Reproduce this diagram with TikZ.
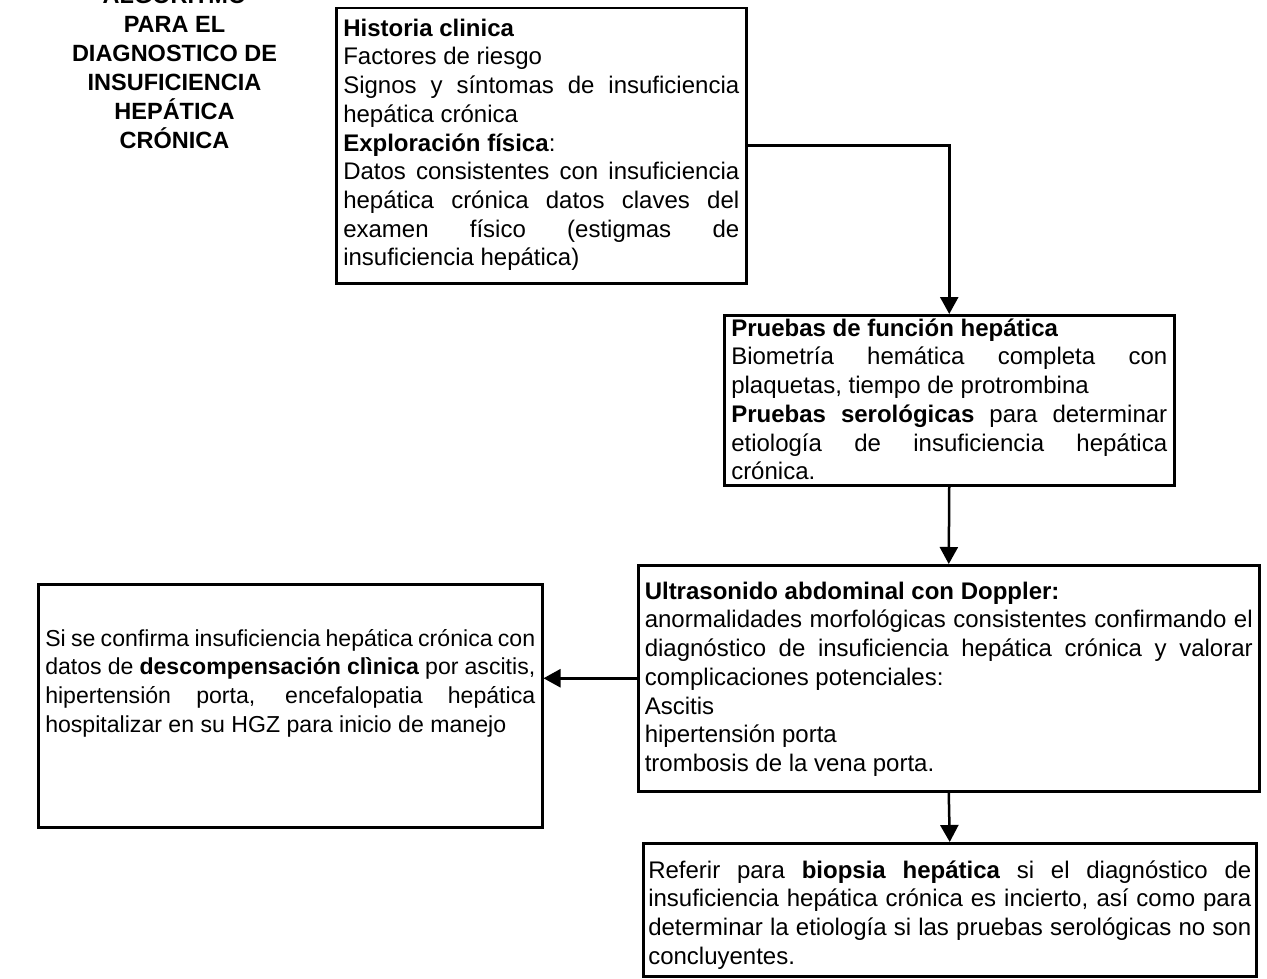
\documentclass[tikz,border=0pt]{standalone}
\usepackage{fontspec}
\setmainfont{Liberation Sans}
\usetikzlibrary{arrows.meta}
\newcommand\bxtextfs[5]{\parbox[c][#2pt][t]{#3pt}{\fontsize{#1}{28.7}\selectfont\hyphenpenalty=10000\exhyphenpenalty=10000\rule{0pt}{#4pt}#5}}
\newcommand\bxtext{\bxtextfs{24}}
\begin{document}
\begin{tikzpicture}[x=1pt,y=-1pt,
  box/.style={draw=black,line width=2.5pt,fill=white,anchor=north west,inner xsep=7pt,inner ysep=0pt},
  conn/.style={draw=black,line width=2.5pt,-{Triangle[length=17pt,width=18pt]}},
  titletext/.style={anchor=north,align=center,inner sep=0pt,font=\bfseries\fontsize{23.5}{29}\selectfont}]
\useasboundingbox[fill=white] (0,0) rectangle (1267,979);
\node[titletext] (title) at (174.5,-13) {ALGORITMO\\PARA EL\\DIAGNOSTICO DE\\INSUFICIENCIA\\HEPÁTICA\\CRÓNICA};
\node[box] (b1) at (335,7) {\bxtext{275}{396}{28}{\textbf{Historia clinica}\par
Factores de riesgo\par
Signos y síntomas de insuficiencia\linebreak hepática crónica\par
\textbf{Exploración física}:\par
Datos consistentes con insuficiencia\linebreak hepática crónica datos claves del\linebreak examen físico (estigmas de\linebreak insuficiencia hepática)}};
\node[box] (b2) at (723,314) {\bxtext{170}{436}{21}{\textbf{Pruebas de función hepática}\par
Biometría hemática completa con\linebreak plaquetas, tiempo de protrombina\par
\textbf{Pruebas serológicas} para determinar\linebreak etiología de insuficiencia hepática\linebreak crónica.}};
\node[box,inner xsep=6.5pt] (b3) at (637,564) {\bxtext{226}{608}{34}{\textbf{Ultrasonido abdominal con Doppler:}\par
anormalidades morfológicas consistentes confirmando el\linebreak diagnóstico de insuficiencia hepática crónica y valorar\linebreak complicaciones potenciales:\par
Ascitis\par
hipertensión porta\par
trombosis de la vena porta.}};
\node[box,inner xsep=5pt] (b4) at (642,842) {\bxtext{133}{603}{35}{Referir para \textbf{biopsia hepática} si el diagnóstico de\linebreak insuficiencia hepática crónica es incierto, así como para\linebreak determinar la etiología si las pruebas serológicas no son\linebreak concluyentes.}};
\node[box] (lb) at (37,583) {\bxtextfs{23.1}{243}{490}{62}{Si se confirma insuficiencia hepática crónica con\linebreak datos de \textbf{descompensación clìnica} por ascitis,\linebreak hipertensión porta, encefalopatia hepática\linebreak hospitalizar en su HGZ para inicio de manejo}};
\draw[conn] (b1.east) -| (b2.north);
\draw[conn] (b2.south) -- (b3.north);
\draw[conn] (b3.south) -- (b4.north);
\draw[conn] (b3.west) -- (b3.west -| lb.east);
\end{tikzpicture}
\end{document}
